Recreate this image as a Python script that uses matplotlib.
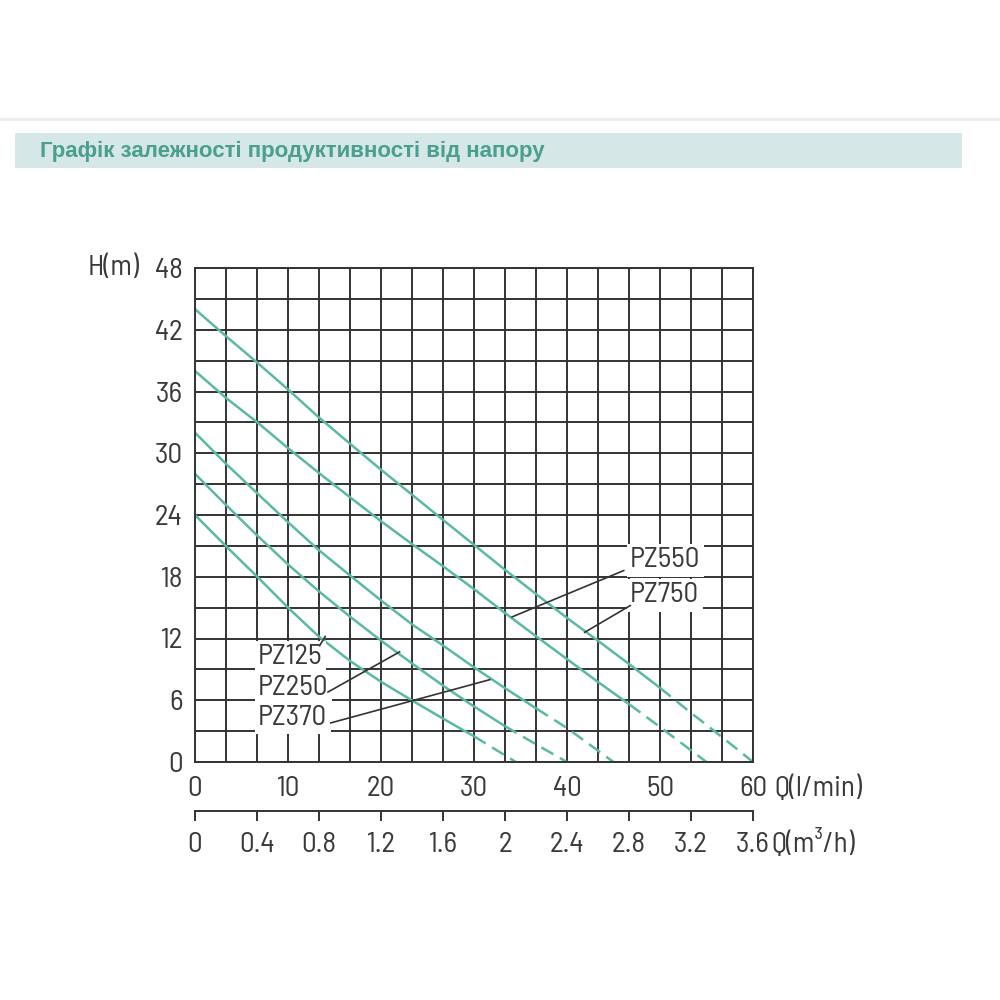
import numpy as np
import matplotlib
matplotlib.use('Agg')
import matplotlib.pyplot as plt
from matplotlib.patches import Rectangle
from matplotlib.lines import Line2D

plt.rcParams['font.family'] = ['Barlow Semi Condensed', 'DejaVu Sans']

title = 'Графік залежності продуктивності від напору'

# flow Q (l/min) and head H (m)
q_125 = [0, 3.3, 6.7, 10, 13.3, 16.7, 20, 23.3, 26.7, 30, 34.5]
h_125 = [24, 21, 18, 15, 12.2, 9.8, 7.8, 6.0, 4.2, 2.5, 0]

q_250 = [0, 3.3, 6.7, 10, 13.3, 16.7, 20, 23.3, 26.7, 30, 33.3, 36.7, 40]
h_250 = [28, 25, 22, 19.2, 16.6, 14.1, 11.8, 9.6, 7.4, 5.4, 3.5, 1.7, 0]

q_370 = [0, 3.3, 6.7, 10, 13.3, 16.7, 20, 23.3, 26.7, 30, 33.3, 36.7, 40, 45]
h_370 = [32, 29, 26.1, 23.3, 20.6, 18.1, 15.7, 13.4, 11.3, 9.2, 7.2, 5.2, 3.3, 0]

q_550 = [0, 3.3, 6.7, 10, 13.3, 16.7, 20, 23.3, 26.7, 30, 33.3, 36.7, 40, 43.3, 46.7, 50, 55]
h_550 = [38, 35.4, 33.0, 30.5, 28.1, 25.7, 23.4, 21.2, 19.0, 16.8, 14.5, 12.2, 10.0, 7.8, 5.6, 3.4, 0]

q_750 = [0, 3.3, 6.7, 10, 13.3, 16.7, 20, 23.3, 26.7, 30, 33.3, 36.7, 40, 43.3, 46.7, 50, 53.3, 56.7, 60]
h_750 = [44, 41.4, 38.8, 36.2, 33.5, 30.9, 28.4, 26.0, 23.5, 21.1, 18.7, 16.3, 14.0, 11.8, 9.5, 7.2, 4.8, 2.4, 0]

# flow where each curve turns dashed
dash_from = {'PZ125': 30, 'PZ250': 33.3, 'PZ370': 36.7, 'PZ550': 46.7, 'PZ750': 50}

curves = [('PZ125', q_125, h_125), ('PZ250', q_250, h_250), ('PZ370', q_370, h_370),
          ('PZ550', q_550, h_550), ('PZ750', q_750, h_750)]

q_ticks = [0, 10, 20, 30, 40, 50, 60]
m3h_ticks = [0, 0.4, 0.8, 1.2, 1.6, 2, 2.4, 2.8, 3.2, 3.6]
m3h_labels = ['0', '0.4', '0.8', '1.2', '1.6', '2', '2.4', '2.8', '3.2', '3.6']
h_ticks = [0, 6, 12, 18, 24, 30, 36, 42, 48]

teal = '#5bb8a6'
ink = '#333333'
txt = '#3a3a3a'
fs = 21

fig = plt.figure(figsize=(10, 10), dpi=100)

# page header band
fig.add_artist(Line2D([0, 1], [0.881, 0.881], color='#ececec', lw=2))
fig.add_artist(Rectangle((0.015, 0.832), 0.947, 0.035, transform=fig.transFigure,
                         facecolor='#d5e7e7', edgecolor='none'))
fig.text(0.04, 0.849, title, color='#4a9f8f', weight='bold', va='center', fontsize=16,
         family=['Liberation Sans', 'DejaVu Sans'])

ax = fig.add_axes([0.195, 0.238, 0.558, 0.494])
ax.set_xlim(0, 60)
ax.set_ylim(0, 48)
ax.set_xticks(q_ticks)
ax.set_xticks(np.arange(0, 60.01, 10 / 3), minor=True)
ax.set_yticks(h_ticks)
ax.set_yticks(np.arange(0, 48.01, 3), minor=True)
ax.set_axisbelow(True)
ax.grid(which='both', color=ink, lw=1.4)
ax.tick_params(which='both', length=0)
ax.tick_params(axis='x', pad=10, labelsize=fs, labelcolor=txt)
ax.tick_params(axis='y', pad=9, labelsize=fs, labelcolor=txt)
for s in ax.spines.values():
    s.set_color(ink)
    s.set_linewidth(1.4)

for name, q, h in curves:
    q = np.array(q)
    h = np.array(h)
    i = int(np.argmin(np.abs(q - dash_from[name])))
    ax.plot(q[:i + 1], h[:i + 1], color=teal, lw=1.8, solid_capstyle='butt')
    ax.plot(q[i:], h[i:], color=teal, lw=1.8, dashes=(5.5, 3))

# labels and leader lines
lab_kw = dict(fontsize=fs, color=txt, va='center', ha='left', zorder=4,
              bbox=dict(facecolor='white', edgecolor='none', pad=2.5))
ax.text(6.8, 10.2, 'PZ125', **lab_kw)
ax.text(6.8, 7.2, 'PZ250', **lab_kw)
ax.text(6.8, 4.3, 'PZ370', **lab_kw)
ax.text(46.8, 19.6, 'PZ550', **lab_kw)
ax.text(46.8, 16.2, 'PZ750', **lab_kw)
lead_kw = dict(color=ink, lw=1.2, zorder=5)
ax.plot([13.4, 14.0], [11.3, 12.2], **lead_kw)
ax.plot([14.3, 22.0], [6.8, 10.7], **lead_kw)
ax.plot([14.6, 31.7], [3.8, 8.0], **lead_kw)
ax.plot([46.1, 34.1], [18.6, 14.1], **lead_kw)
ax.plot([46.8, 41.9], [15.2, 12.6], **lead_kw)

# second flow scale in m3/h
sec = ax.secondary_xaxis(-0.099, functions=(lambda x: x * 0.06, lambda x: x / 0.06))
sec.set_xticks(m3h_ticks, m3h_labels)
sec.tick_params(direction='out', length=7, width=1.4, color=ink, pad=8,
                labelsize=fs, labelcolor=txt)
sec.spines['bottom'].set_color(ink)
sec.spines['bottom'].set_linewidth(1.4)

fig.text(0.140, 0.732, 'H(m)', fontsize=fs, color=txt, ha='right', va='center')
fig.text(0.774, 0.211, 'Q(l/min)', fontsize=fs, color=txt, ha='left', va='center')
fig.text(0.771, 0.156, 'Q(m³/h)', fontsize=fs, color=txt, ha='left', va='center')

fig.savefig('out.png', dpi=100, facecolor='white')
